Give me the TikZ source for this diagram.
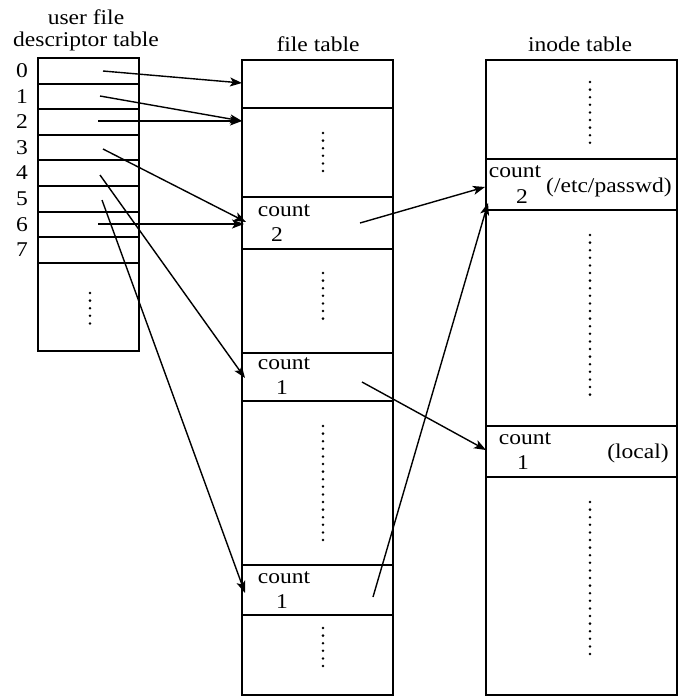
\documentclass[tikz,border=0pt]{standalone}
\usepackage{fontspec}
\setmainfont{Liberation Serif}[FakeStretch=1.12]
\usetikzlibrary{arrows.meta,calc}
\begin{document}
\begin{tikzpicture}[x=1pt,y=-1pt,
  cell/.style={draw,line width=1.5pt,rectangle,inner sep=0pt,outer sep=0pt,anchor=north west},
  lbl/.style={inner sep=0pt,font=\fontsize{21}{23}\selectfont},
  ptr/.style={line width=1.4pt,-{Stealth[length=12pt,width=9pt,inset=3pt]}},
  dotcol/.style={line width=2.8pt,line cap=round,dash pattern=on 0pt off 7.6pt}]
\useasboundingbox (0,0) rectangle (685,697);
% ---------- user file descriptor table ----------
\node[lbl] (h1) at (86,17) {user file};
\node[lbl] (h2) at (86,41) {descriptor table};
\foreach \i/\t/\h in {0/58/26,1/84/25,2/109/26,3/135/25,4/160/26,5/186/26,6/212/25,7/237/26}{
  \node[cell,minimum width=101pt,minimum height=\h pt] (fd\i) at (38,\t) {};
  \node[lbl] (n\i) at (22,{\t+12.8}) {\i};
}
\node[cell,minimum width=101pt,minimum height=88pt] (fdrest) at (38,263) {};
\draw[dotcol] (90,293) -- (90,328);
% ---------- file table ----------
\node[lbl] (h3) at (318,44) {file table};
\node[cell,minimum width=151pt,minimum height=48pt] (ft0) at (242,60) {};
\node[cell,minimum width=151pt,minimum height=89pt] (ft1) at (242,108) {};
\node[cell,minimum width=151pt,minimum height=52pt] (ftA) at (242,197) {};
\node[cell,minimum width=151pt,minimum height=104pt] (ft2) at (242,249) {};
\node[cell,minimum width=151pt,minimum height=48pt] (ftB) at (242,353) {};
\node[cell,minimum width=151pt,minimum height=164pt] (ft3) at (242,401) {};
\node[cell,minimum width=151pt,minimum height=50pt] (ftC) at (242,565) {};
\node[cell,minimum width=151pt,minimum height=80pt] (ft4) at (242,615) {};
\draw[dotcol] (323,133) -- (323,173);
\draw[dotcol] (323,273) -- (323,326);
\draw[dotcol] (323,426) -- (323,542);
\draw[dotcol] (323,628) -- (323,669);
\node[lbl] (fa1) at (284,211) {count};
\node[lbl] (fa2) at (277,235) {2};
\node[lbl] (fb1) at (284,364) {count};
\node[lbl] (fb2) at (282,388) {1};
\node[lbl] (fc1) at (284,578) {count};
\node[lbl] (fc2) at (282,602) {1};
% ---------- inode table ----------
\node[lbl] (h4) at (580,44) {inode table};
\node[cell,minimum width=191pt,minimum height=99pt] (it0) at (486,60) {};
\node[cell,minimum width=191pt,minimum height=51pt] (itA) at (486,159) {};
\node[cell,minimum width=191pt,minimum height=216pt] (it1) at (486,210) {};
\node[cell,minimum width=191pt,minimum height=51pt] (itB) at (486,426) {};
\node[cell,minimum width=191pt,minimum height=218pt] (it2) at (486,477) {};
\draw[dotcol] (590,82) -- (590,148);
\draw[dotcol] (590,235) -- (590,401);
\draw[dotcol] (590,502) -- (590,656);
\node[lbl] (ia1) at (515,172) {count};
\node[lbl] (ia2) at (522,197) {2};
\node[lbl,anchor=west] (ia3) at (546,187) {(/etc/passwd)};
\node[lbl] (ib1) at (525,439) {count};
\node[lbl] (ib2) at (523,463) {1};
\node[lbl] (ib3) at (638,453) {(local)};
% ---------- pointer coordinates ----------
\coordinate (s0) at (103,71);
\coordinate (s1) at (100,96);
\coordinate (s2) at (98,121);
\coordinate (s3) at (103,149);
\coordinate (s4) at (100,175);
\coordinate (s5) at (102,200);
\coordinate (s6) at (98,224);
\coordinate (e0) at (ft0.west |- 0,83);
\coordinate (e1) at (ft1.west |- 0,121);
\coordinate (e3) at (246,222);
\coordinate (e6) at (244,224);
\coordinate (e4) at (245,378);
\coordinate (e5) at (245,593);
\coordinate (sa) at (360,223);
\coordinate (sb) at (362,382);
\coordinate (sc) at (373,597);
\coordinate (ea) at (485,187);
\coordinate (eb) at (486,450);
\coordinate (ec) at (488,203);
% ---------- pointers ----------
\draw[ptr] (s0) -- (e0);
\draw[ptr] (s1) -- (e1);
\draw[ptr] (s2) -- (e1);
\draw[ptr] (s3) -- (e3);
\draw[ptr] (s6) -- (e6);
\draw[ptr] (s4) -- (e4);
\draw[ptr] (s5) -- (e5);
\draw[ptr] (sa) -- (ea);
\draw[ptr] (sb) -- (eb);
\draw[ptr] (sc) -- (ec);
\end{tikzpicture}
\end{document}
